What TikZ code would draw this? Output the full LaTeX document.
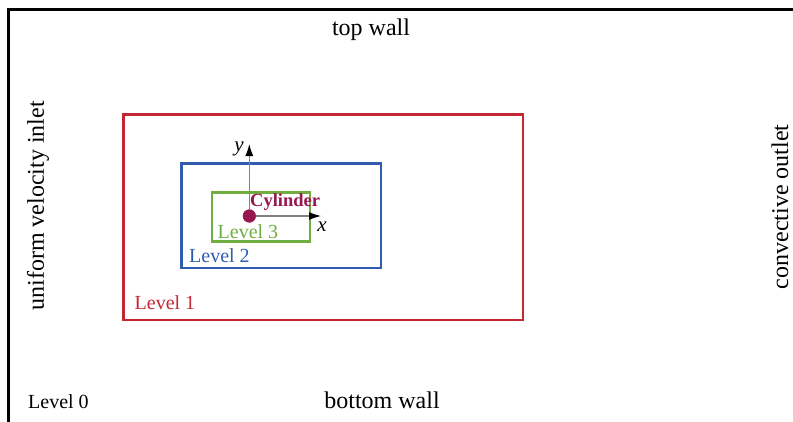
\documentclass[tikz,border=0pt]{standalone}
\usepackage{fontspec}
\setmainfont{Liberation Serif}
\usetikzlibrary{arrows.meta}
\definecolor{lvlred}{RGB}{196,38,52}
\definecolor{lvlblue}{RGB}{48,92,176}
\definecolor{lvlgreen}{RGB}{112,174,66}
\definecolor{cylcol}{RGB}{150,24,78}
\definecolor{axisgray}{RGB}{130,130,130}
\tikzset{
  x=1pt, y=-1pt,
  levelbox/.style={draw=#1, line width=2.4pt, inner sep=0pt},
  walllabel/.style={font=\fontsize{24}{24}\selectfont, inner sep=0pt},
  levellabel/.style={font=\fontsize{20}{20}\selectfont, text=#1, inner sep=0pt, anchor=base west},
  axisline/.style={draw=axisgray, line width=1.1pt, -{Latex[length=12pt,width=8pt,black]}},
}
\begin{document}
\begin{tikzpicture}
  \useasboundingbox (0,0) rectangle (793,421);
  \clip (0,0) rectangle (793,421);
  % outer domain (level 0), extending past the right and lower edges
  \draw[line width=2.4pt] (8.5,440) -- (8.5,9.5) -- (810,9.5);
  % refinement levels
  \draw[levelbox=lvlred] (123.5,114.5) rectangle (523,320);
  \draw[levelbox=lvlblue] (181.5,163.5) rectangle (381,268);
  \draw[levelbox=lvlgreen] (212,192.5) rectangle (310,241.5);
  % boundary labels
  \node[walllabel] (top) at (371,30) {top wall};
  \node[walllabel] (bottom) at (382,400) {bottom wall};
  \node[walllabel, rotate=90] (inlet) at (38,206) {uniform velocity inlet};
  \node[walllabel, rotate=90] (outlet) at (780,207) {convective outlet};
  % level labels
  \node[levellabel=black] (l0) at (28,408) {Level 0};
  \node[levellabel=lvlred] (l1) at (134.5,309) {Level 1};
  \node[levellabel=lvlblue] (l2) at (189,262) {Level 2};
  \node[levellabel=lvlgreen] (l3) at (217.5,238) {Level 3};
  % cylinder and coordinate axes
  \coordinate (ytip) at (249.3,144);
  \coordinate (xtip) at (321,216);
  \node[circle, fill=cylcol, minimum size=13pt, inner sep=0pt] (cyl) at (249.3,216) {};
  \draw[axisline] (cyl.center) -- (ytip);
  \draw[axisline] (cyl.center) -- (xtip);
  \node[circle, fill=cylcol, minimum size=13pt, inner sep=0pt] at (cyl.center) {};
  \node[font=\fontsize{18.5}{18.5}\selectfont\bfseries, text=cylcol, inner sep=0pt, anchor=base west] (cyllabel) at (250,206) {Cylinder};
  \node[font=\fontsize{21}{21}\selectfont\itshape, inner sep=0pt] (ylab) at (239,149) {y};
  \node[font=\fontsize{21}{21}\selectfont\itshape, inner sep=0pt] (xlab) at (322,227) {x};
\end{tikzpicture}
\end{document}
